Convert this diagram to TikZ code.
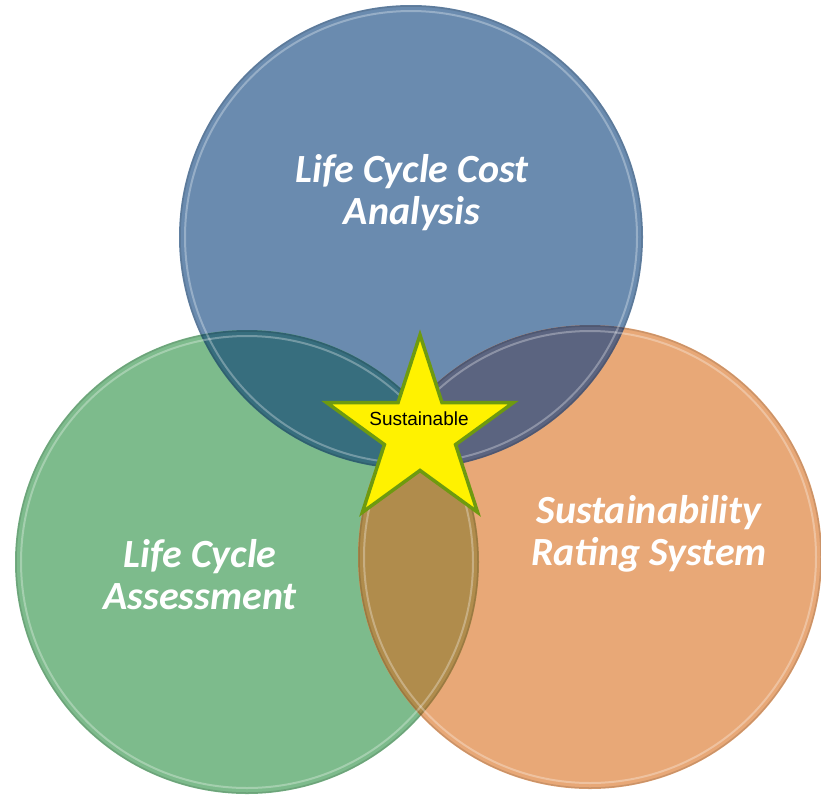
\documentclass[tikz,border=0pt]{standalone}
\usepackage{fontspec}
\setmainfont{Carlito}
\newfontfamily\arialfont{Liberation Sans}
\usetikzlibrary{shapes.geometric,positioning}
\definecolor{costblue}{HTML}{6A8BAF}
\definecolor{lcagreen}{HTML}{7DBB8C}
\definecolor{ratingorange}{HTML}{E8A877}
\definecolor{bluegreen}{HTML}{376E7E}
\definecolor{blueorange}{HTML}{5B6480}
\definecolor{greenorange}{HTML}{B08C4C}
\definecolor{allthree}{HTML}{4E5A55}
\definecolor{starrim}{HTML}{6E9A10}
\tikzset{venn/.style={circle,minimum size=464pt,inner sep=0pt},
  rim/.style={line width=2pt,white,opacity=0.3},
  venntext/.style={text=white,font=\fontsize{40}{42}\selectfont\bfseries\itshape,align=center}}

\begin{document}
\begin{tikzpicture}[x=1pt,y=-1pt]
  \useasboundingbox (0,0) rectangle (821,798);
  \node[venn,fill=costblue] (cost) at (411,237) {};
  \node[venn,fill=lcagreen] (lca) at (247,562) {};
  \node[venn,fill=ratingorange] (rating) at (590,557) {};
  \begin{scope}
    \clip (cost.center) circle[radius=232pt];
    \fill[bluegreen] (lca.center) circle[radius=232pt];
    \fill[blueorange] (rating.center) circle[radius=232pt];
    \clip (lca.center) circle[radius=232pt];
    \fill[allthree] (rating.center) circle[radius=232pt];
  \end{scope}
  \begin{scope}
    \clip (lca.center) circle[radius=232pt];
    \clip (rating.center) circle[radius=232pt];
    \fill[greenorange] (rating.center) circle[radius=232pt];
  \end{scope}
  \foreach \c in {cost,lca,rating}{
    \draw[rim] (\c.center) circle[radius=226pt];
    \draw[black,opacity=0.12,line width=1.5pt] (\c.center) circle[radius=231pt];
  }
  \node[venntext] (costtext) at (412,193) {Life Cycle Cost\\Analysis};
  \node[venntext] (lcatext) at (200,575) {Life Cycle\\Assessment};
  \node[venntext] (ratingtext) at (649,534) {Sustainability\\Rating System};
  \node[star,star points=5,star point ratio=2.618,minimum size=196pt,inner sep=0pt,
    fill=yellow,draw=starrim,line width=3.5pt] (star) at (420,433) {};
  \node[font=\arialfont\fontsize{19}{21}\selectfont] (sust) at (419,419) {Sustainable};
\end{tikzpicture}
\end{document}
